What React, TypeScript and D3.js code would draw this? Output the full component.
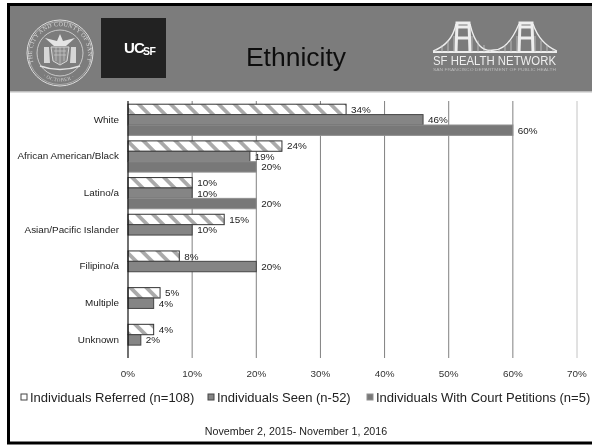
import React from "react";
import * as d3 from "d3";

const categories = ["White", "African American/Black", "Latino/a", "Asian/Pacific Islander", "Filipino/a", "Multiple", "Unknown"];
const referred = [34, 24, 10, 15, 8, 5, 4];
const seen = [46, 19, 10, 10, 20, 4, 2];
const court: (number | null)[] = [60, 20, 20, null, null, null, null];
const xTicks = [0, 10, 20, 30, 40, 50, 60, 70];
const seriesKeys = ["referred", "seen", "court"];
const legendLabels = ["Individuals Referred (n=108)", "Individuals Seen (n-52)", "Individuals With Court Petitions (n=5)"];
const legendX = [21, 208, 367];
const suspenderX = [-27, -21, -15, -9, 9, 15, 21, 27];

const FONT = "'Liberation Sans', Arial, sans-serif";

function Seal() {
  return (
    <g transform="translate(60,53)" stroke="#ddd" fill="none">
      <circle r={33} strokeWidth={1} />
      <circle r={31.5} strokeWidth={0.5} />
      <circle r={23} strokeWidth={0.8} />
      <path id="sealArc" d="M-26.5,10 A28,28 0 1 1 26.5,10" stroke="none" />
      <text fontFamily="'Liberation Serif', serif" fontSize={6} fill="#ddd" stroke="none" letterSpacing={0.35}>
        <textPath href="#sealArc">THE CITY AND COUNTY OF SAN FRANCISCO</textPath>
      </text>
      <path id="sealArc2" d="M-17,23 A29,29 0 0 0 17,23" stroke="none" />
      <text fontFamily="'Liberation Serif', serif" fontSize={5} fill="#ccc" stroke="none" letterSpacing={0.4}>
        <textPath href="#sealArc2">· OCTOBER ·</textPath>
      </text>
      <path d="M-15,-15 L-3,-12 L0,-19 L3,-12 L15,-15 L6,-7 L-6,-7 Z" fill="#e4e4e4" stroke="none" />
      <path d="M-9,-6 H9 L7,8 L0,12 L-7,8 Z" fill="#8c8c8c" stroke="#e0e0e0" strokeWidth={0.9} />
      <path d="M-6,-2 H6 M-6,2 H6 M-4,-6 V8 M0,-6 V11 M4,-6 V8" stroke="#ccc" strokeWidth={0.7} />
      <path d="M-16,-6 L-11,-6 L-10,10 L-16,10 Z M11,-6 L16,-6 L16,10 L10,10 Z" fill="#d6d6d6" stroke="none" />
      <path d="M-20,13 Q0,20 20,13" strokeWidth={1.4} stroke="#e2e2e2" />
    </g>
  );
}

function Ucsf() {
  return (
    <g>
      <rect x={101} y={18} width={65} height={60} fill="#222" />
      <text x={124} y={53} fontFamily={FONT} fontWeight={700} fontSize={15} fill="#fff" letterSpacing={-0.8}>UC</text>
      <text x={143} y={55} fontFamily={FONT} fontWeight={700} fontSize={10.5} fill="#fff" letterSpacing={-0.4}>SF</text>
    </g>
  );
}

function Bridge() {
  const deck = 52;
  const towers = [463, 526];
  return (
    <g fill="none" stroke="#eee">
      <path d={`M433,${deck} H557`} strokeWidth={1.8} />
      <path d={`M433,${deck - 1} Q452,${deck - 8} ${towers[0] - 7},24 M${towers[0] + 7},24 Q${towers[0] + 14},${deck + 2} 494,${deck - 2} Q${towers[1] - 18},${deck - 2} ${towers[1] - 7},24 M${towers[1] + 7},24 Q${towers[1] + 14},${deck - 8} 557,${deck - 1}`} strokeWidth={1.3} />
      {towers.map(t => (
        <g key={t}>
          <path d={`M${t - 7},${deck} L${t - 6},23 H${t + 6} L${t + 7},${deck}`} strokeWidth={3} />
          <path d={`M${t - 6},27 H${t + 6} M${t - 6},38 H${t + 6}`} strokeWidth={3} />
          {suspenderX.map(d => (
            <path key={d} d={`M${t + d},${deck} V${deck - 16 + Math.abs(Math.abs(d) - 9) * 0.75}`} strokeWidth={0.8} stroke="#ccc" />
          ))}
        </g>
      ))}
      <text x={433} y={65} fontFamily={FONT} fontSize={12} fill="#eee" stroke="none" textLength={123} lengthAdjust="spacingAndGlyphs">SF HEALTH NETWORK</text>
      <text x={433} y={71} fontFamily={FONT} fontSize={4} fill="#bbb" stroke="none" textLength={123} lengthAdjust="spacingAndGlyphs">SAN FRANCISCO DEPARTMENT OF PUBLIC HEALTH</text>
    </g>
  );
}

export default function App() {
  const x = d3.scaleLinear().domain([0, 70]).range([128, 577]);
  const y = d3.scaleBand<string>().domain(categories).range([101.2, 358]);
  const inner = d3.scaleBand<string>().domain(seriesKeys).range([3, 34.2]);
  const series: { key: string; values: (number | null)[] }[] = [
    { key: "referred", values: referred },
    { key: "seen", values: seen },
    { key: "court", values: court },
  ];
  const styles: Record<string, { fill: string; stroke: string }> = {
    referred: { fill: "url(#hatch)", stroke: "#333" },
    seen: { fill: "#858585", stroke: "#444" },
    court: { fill: "#787878", stroke: "#8f8f8f" },
  };
  return (
    <svg width={592} height={445} style={{ position: "absolute", left: 0, top: 0 }} fontFamily={FONT}>
      <defs>
        <pattern id="hatch" patternUnits="userSpaceOnUse" width={11.3} height={11.3} patternTransform="rotate(-45)">
          <rect width={11.3} height={11.3} fill="#fff" />
          <rect width={3.8} height={11.3} fill="#aaa" />
        </pattern>
        <filter id="soft" filterUnits="userSpaceOnUse" x={0} y={0} width={592} height={445}>
          <feGaussianBlur stdDeviation={0.3} />
        </filter>
      </defs>
      <g filter="url(#soft)">
        <rect width={592} height={445} fill="#fff" />
        <rect x={8.5} y={4.5} width={590} height={438.5} fill="#fff" stroke="#000" strokeWidth={3} />
        <rect x={10} y={6} width={582} height={85} fill="#7b7b7b" />
        <rect x={10} y={91} width={582} height={1.5} fill="#bdbdbd" />
        <Seal />
        <Ucsf />
        <text x={296} y={66} textAnchor="middle" fontSize={26.5} fill="#111">Ethnicity</text>
        <Bridge />

        {xTicks.map(t => (
          <g key={t}>
            {t !== 0 && (
              <line x1={x(t)} x2={x(t)} y1={101} y2={358} stroke={t === 70 ? "#c4c4c4" : "#808080"} strokeWidth={1} />
            )}
            <text x={x(t)} y={377} textAnchor="middle" fontSize={9.9} fill="#333">{t}%</text>
          </g>
        ))}

        {categories.map((c, i) => (
          <g key={c}>
            <text x={119} y={(y(c) as number) + y.bandwidth() / 2 + 3} textAnchor="end" fontSize={9.9} fill="#222">{c}</text>
            {series.map(s => {
              const v = s.values[i];
              if (v === null) return null;
              const top = (y(c) as number) + (inner(s.key) as number);
              const st = styles[s.key];
              return (
                <g key={s.key}>
                  <rect x={x(0)} y={top} width={x(v) - x(0)} height={inner.bandwidth()} fill={st.fill} stroke={st.stroke} strokeWidth={1} />
                  <text x={x(v) + 5} y={top + inner.bandwidth() / 2 + 3.4} fontSize={9.9} fill="#222">{v}%</text>
                </g>
              );
            })}
          </g>
        ))}
        <line x1={x(0)} x2={x(0)} y1={101} y2={358} stroke="#111" strokeWidth={1.2} />

        {legendLabels.map((l, i) => (
          <g key={l}>
            <rect x={legendX[i]} y={394} width={6} height={6} fill={["#fff", "#858585", "#787878"][i]} stroke={["#444", "#444", "#8f8f8f"][i]} strokeWidth={1} />
            <text x={legendX[i] + 9} y={402} fontSize={13} fill="#222">{l}</text>
          </g>
        ))}
        <text x={296} y={435} textAnchor="middle" fontSize={10.7} fill="#222">November 2, 2015- November 1, 2016</text>
      </g>
    </svg>
  );
}
